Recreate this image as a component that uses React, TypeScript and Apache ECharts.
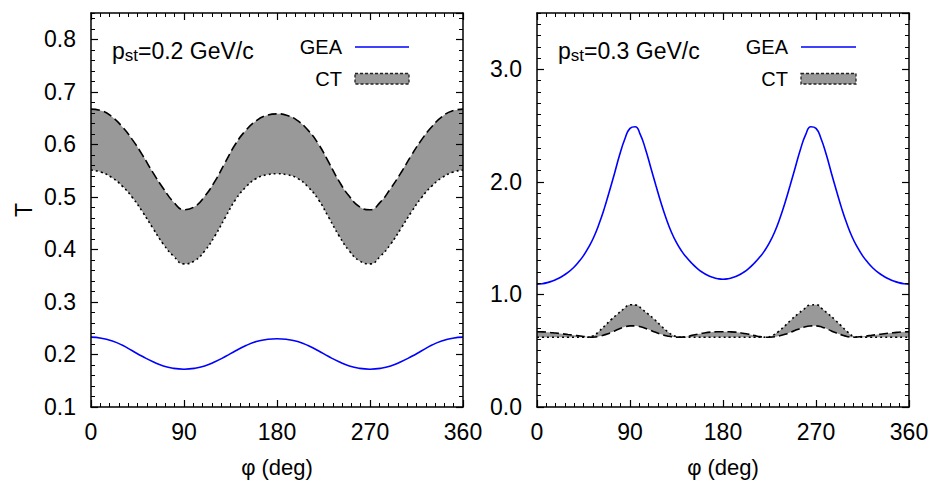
import React, { useEffect, useRef } from "react";
import * as echarts from "echarts";

// ---------- data ----------
// Left panel: p_st = 0.2 GeV/c  (phi every 10 deg)
const phiLeft = [0, 10, 20, 30, 40, 50, 60, 70, 80, 90, 100, 110, 120, 130, 140, 150, 160, 170, 180,
  190, 200, 210, 220, 230, 240, 250, 260, 270, 280, 290, 300, 310, 320, 330, 340, 350, 360];
const geaLeft = [0.233, 0.231, 0.226, 0.218, 0.207, 0.196, 0.186, 0.178, 0.1735, 0.172, 0.1735, 0.178, 0.186, 0.196, 0.207, 0.217, 0.2245, 0.2285, 0.230,
  0.2285, 0.2245, 0.217, 0.207, 0.196, 0.186, 0.178, 0.1735, 0.172, 0.1735, 0.178, 0.186, 0.196, 0.207, 0.218, 0.226, 0.231, 0.233];
const ctDashedLeft = [0.667, 0.664, 0.653, 0.634, 0.609, 0.579, 0.546, 0.516, 0.490, 0.4755, 0.481, 0.501, 0.530, 0.566, 0.601, 0.627, 0.645, 0.655, 0.658,
  0.655, 0.645, 0.627, 0.601, 0.566, 0.530, 0.501, 0.481, 0.4755, 0.490, 0.516, 0.546, 0.579, 0.609, 0.634, 0.653, 0.664, 0.667];
const ctDottedLeft = [0.551, 0.547, 0.537, 0.521, 0.499, 0.471, 0.440, 0.410, 0.387, 0.3725, 0.378, 0.397, 0.426, 0.461, 0.495, 0.519, 0.535, 0.542, 0.544,
  0.542, 0.535, 0.519, 0.495, 0.461, 0.426, 0.397, 0.378, 0.3725, 0.387, 0.410, 0.440, 0.471, 0.499, 0.521, 0.537, 0.547, 0.551];

// Right panel: p_st = 0.3 GeV/c
// GEA, phi every 5 deg
const phiRightGea = [0, 5, 10, 15, 20, 25, 30, 35, 40, 45, 50, 55, 60, 65, 70, 75, 80, 85, 90, 95, 100, 105, 110, 115, 120, 125, 130, 135, 140, 145, 150, 155, 160, 165, 170, 175, 180,
  185, 190, 195, 200, 205, 210, 215, 220, 225, 230, 235, 240, 245, 250, 255, 260, 265, 270, 275, 280, 285, 290, 295, 300, 305, 310, 315, 320, 325, 330, 335, 340, 345, 350, 355, 360];
const geaRight = [1.09, 1.095, 1.105, 1.12, 1.14, 1.165, 1.195, 1.235, 1.285, 1.345, 1.42, 1.51, 1.625, 1.76, 1.915, 2.075, 2.24, 2.38, 2.475, 2.49, 2.42, 2.29, 2.13, 1.97, 1.815, 1.675, 1.555, 1.46, 1.385, 1.325, 1.275, 1.232, 1.197, 1.17, 1.152, 1.14, 1.135,
  1.14, 1.152, 1.17, 1.197, 1.232, 1.275, 1.325, 1.385, 1.46, 1.555, 1.675, 1.815, 1.97, 2.13, 2.29, 2.42, 2.49, 2.475, 2.38, 2.24, 2.075, 1.915, 1.76, 1.625, 1.51, 1.42, 1.345, 1.285, 1.235, 1.195, 1.165, 1.14, 1.12, 1.105, 1.095, 1.09];
// CT band edges, phi every 6 deg
const phiRightCt = [0, 6, 12, 18, 24, 30, 36, 42, 48, 54, 60, 66, 72, 78, 84, 90, 96, 102, 108, 114, 120, 126, 132, 138, 144, 150, 156, 162, 168, 174, 180,
  186, 192, 198, 204, 210, 216, 222, 228, 234, 240, 246, 252, 258, 264, 270, 276, 282, 288, 294, 300, 306, 312, 318, 324, 330, 336, 342, 348, 354, 360];
const ctDashedRight = [0.668, 0.667, 0.663, 0.657, 0.651, 0.644, 0.637, 0.630, 0.624, 0.620, 0.627, 0.643, 0.663, 0.688, 0.709, 0.721, 0.720, 0.708, 0.688, 0.666, 0.646, 0.631, 0.622, 0.620, 0.625, 0.636, 0.648, 0.658, 0.665, 0.668, 0.669,
  0.668, 0.665, 0.658, 0.648, 0.636, 0.625, 0.620, 0.622, 0.631, 0.646, 0.666, 0.688, 0.708, 0.720, 0.721, 0.709, 0.688, 0.663, 0.643, 0.627, 0.620, 0.624, 0.630, 0.637, 0.644, 0.651, 0.657, 0.663, 0.667, 0.668];
const ctDottedRight = [0.620, 0.620, 0.620, 0.620, 0.620, 0.620, 0.620, 0.620, 0.620, 0.630, 0.672, 0.725, 0.778, 0.826, 0.872, 0.908, 0.905, 0.866, 0.822, 0.775, 0.722, 0.672, 0.636, 0.621, 0.620, 0.620, 0.620, 0.620, 0.620, 0.620, 0.620,
  0.620, 0.620, 0.620, 0.620, 0.620, 0.620, 0.621, 0.636, 0.672, 0.722, 0.775, 0.822, 0.866, 0.905, 0.908, 0.872, 0.826, 0.778, 0.725, 0.672, 0.630, 0.620, 0.620, 0.620, 0.620, 0.620, 0.620, 0.620, 0.620, 0.620];

// axis ranges / tick steps
const xRange = [0, 360];
const xMajor = 90;
const leftYRange = [0.1, 0.85];
const leftYMajor = 0.1;
const leftYMinor = 0.02;
const rightYRange = [0, 3.5];
const rightYMajor = 1;
const rightYMinor = 0.1;

const xAxisName = "φ (deg)";
const yAxisName = "T";
const panelLabels = ["0.2", "0.3"];
const legendNames = ["GEA", "CT"];

// ---------- styling ----------
const FONT = '"Liberation Sans", Arial, Helvetica, sans-serif';
const BLUE = "#0000ff";
const BAND = "#999999";
const SMOOTH = 0.5;

const pairs = (xs: number[], ys: number[]) => xs.map((x, i) => [x, ys[i]]);

function xAxisFor(gridIndex: number, position: string, labels: boolean) {
  return {
    type: "value",
    gridIndex,
    position,
    z: 10,
    min: xRange[0],
    max: xRange[1],
    interval: xMajor,
    axisLine: { show: true, onZero: false, lineStyle: { color: "#000", width: 1.5 } },
    axisTick: { show: true, inside: true, length: 7, lineStyle: { color: "#000", width: 1.2 } },
    minorTick: { show: true, splitNumber: 10, length: 4, lineStyle: { color: "#000", width: 1 } },
    axisLabel: { show: labels, margin: 13, color: "#000", fontSize: 23, fontFamily: FONT },
    splitLine: { show: false },
    minorSplitLine: { show: false },
    name: labels ? xAxisName : "",
    nameLocation: "middle",
    nameGap: 49,
    nameTextStyle: { color: "#000", fontSize: 22, fontFamily: FONT },
  };
}

function yAxisFor(
  gridIndex: number,
  position: string,
  range: number[],
  step: number,
  tickLen: number,
  labels: boolean,
  line: boolean,
  name?: string
) {
  return {
    type: "value",
    gridIndex,
    position,
    z: 10,
    min: range[0],
    max: range[1],
    interval: step,
    axisLine: { show: line, onZero: false, lineStyle: { color: "#000", width: 1.5 } },
    axisTick: { show: true, inside: true, length: tickLen, lineStyle: { color: "#000", width: tickLen > 5 ? 1.2 : 1 } },
    minorTick: { show: false },
    axisLabel: {
      show: labels,
      margin: 15,
      color: "#000",
      fontSize: 23,
      fontFamily: FONT,
      showMaxLabel: false,
      formatter: (v: number) => (Math.abs(v * 10 - Math.round(v * 10)) > 1e-6 ? "" : v.toFixed(1)),
    },
    splitLine: { show: false },
    name: name || "",
    nameLocation: "middle",
    nameGap: 56,
    nameTextStyle: { color: "#000", fontSize: 23, fontFamily: FONT },
  };
}

// the CT band: grey area under the upper edge, white area under the lower edge
function bandSeries(xIdx: number, yIdx: number, xs: number[], a: number[], b: number[]) {
  const hi = xs.map((_, i) => Math.max(a[i], b[i]));
  const lo = xs.map((_, i) => Math.min(a[i], b[i]));
  const common = {
    type: "line",
    xAxisIndex: xIdx,
    yAxisIndex: yIdx,
    symbol: "none",
    showSymbol: false,
    smooth: SMOOTH,
    silent: true,
    lineStyle: { opacity: 0, width: 0 },
  };
  return [
    { ...common, name: "CT", z: 1, data: pairs(xs, hi), areaStyle: { color: BAND, opacity: 1, origin: "start" } },
    { ...common, name: "CT-lower", z: 2, data: pairs(xs, lo), areaStyle: { color: "#ffffff", opacity: 1, origin: "start" } },
  ];
}

function lineSeries(name: string, xIdx: number, yIdx: number, xs: number[], ys: number[], color: string, type: any, z: number) {
  return {
    type: "line",
    name,
    xAxisIndex: xIdx,
    yAxisIndex: yIdx,
    data: pairs(xs, ys),
    symbol: "none",
    showSymbol: false,
    smooth: SMOOTH,
    silent: true,
    z,
    lineStyle: { color, width: 1.6, type, cap: "butt" },
  };
}

function legendGraphics(textRight: number, sampleLeft: number, sampleWidth: number) {
  return [
    {
      type: "text",
      z: 100,
      x: textRight,
      y: 47,
      style: { text: legendNames[0], fill: "#000", font: `20px ${FONT}`, align: "right", verticalAlign: "middle" },
    },
    {
      type: "line",
      z: 100,
      shape: { x1: sampleLeft, y1: 47, x2: sampleLeft + sampleWidth, y2: 47 },
      style: { stroke: BLUE, lineWidth: 1.6 },
    },
    {
      type: "text",
      z: 100,
      x: textRight,
      y: 79,
      style: { text: legendNames[1], fill: "#000", font: `20px ${FONT}`, align: "right", verticalAlign: "middle" },
    },
    {
      type: "rect",
      z: 100,
      shape: { x: sampleLeft, y: 73.5, width: sampleWidth, height: 10.5 },
      style: { fill: BAND, stroke: "#222", lineWidth: 1.3, lineDash: [3, 2] },
    },
  ];
}

function pstLabel(x: number, value: string) {
  return {
    type: "text",
    z: 100,
    x,
    y: 51,
    style: {
      text: `{a|p}{b|st}{a|=${value} GeV/c}`,
      align: "left",
      verticalAlign: "middle",
      rich: {
        a: { fontSize: 23, fontFamily: FONT, fill: "#000", lineHeight: 26 },
        b: { fontSize: 17, fontFamily: FONT, fill: "#000", lineHeight: 14, verticalAlign: "bottom" },
      },
    },
  };
}

export default function App() {
  const ref = useRef<HTMLDivElement>(null);

  useEffect(() => {
    document.body.style.margin = "0";
    if (!ref.current) return;
    const chart = echarts.init(ref.current, undefined, { renderer: "svg" });

    const option: any = {
      animation: false,
      backgroundColor: "#fff",
      grid: [
        { left: 91, top: 13, width: 372, height: 394, outerBoundsMode: "none", containLabel: false },
        { left: 537, top: 13, width: 372, height: 394, outerBoundsMode: "none", containLabel: false },
      ],
      xAxis: [
        xAxisFor(0, "bottom", true),
        xAxisFor(0, "top", false),
        xAxisFor(1, "bottom", true),
        xAxisFor(1, "top", false),
      ],
      yAxis: [
        yAxisFor(0, "left", leftYRange, leftYMajor, 7, true, true, yAxisName),
        yAxisFor(0, "left", leftYRange, leftYMinor, 4, false, false),
        yAxisFor(0, "right", leftYRange, leftYMajor, 7, false, true),
        yAxisFor(0, "right", leftYRange, leftYMinor, 4, false, false),
        yAxisFor(1, "left", rightYRange, rightYMajor, 7, true, true),
        yAxisFor(1, "left", rightYRange, rightYMinor, 4, false, false),
        yAxisFor(1, "right", rightYRange, rightYMajor, 7, false, true),
        yAxisFor(1, "right", rightYRange, rightYMinor, 4, false, false),
      ],
      series: [
        ...bandSeries(0, 0, phiLeft, ctDashedLeft, ctDottedLeft),
        lineSeries("CT upper", 0, 0, phiLeft, ctDashedLeft, "#000", [9, 4], 3),
        lineSeries("CT lower", 0, 0, phiLeft, ctDottedLeft, "#000", [2, 3], 3),
        lineSeries("GEA", 0, 0, phiLeft, geaLeft, BLUE, "solid", 4),
        ...bandSeries(2, 4, phiRightCt, ctDashedRight, ctDottedRight),
        lineSeries("CT dashed", 2, 4, phiRightCt, ctDashedRight, "#000", [9, 4], 3),
        lineSeries("CT dotted", 2, 4, phiRightCt, ctDottedRight, "#000", [2, 3], 3),
        lineSeries("GEA", 2, 4, phiRightGea, geaRight, BLUE, "solid", 4),
      ],
      graphic: [
        pstLabel(112, panelLabels[0]),
        ...legendGraphics(342, 355, 54),
        pstLabel(558, panelLabels[1]),
        ...legendGraphics(788, 801, 55),
      ],
    };

    chart.setOption(option);
    return () => chart.dispose();
  }, []);

  return <div ref={ref} style={{ width: 937, height: 485 }} />;
}
